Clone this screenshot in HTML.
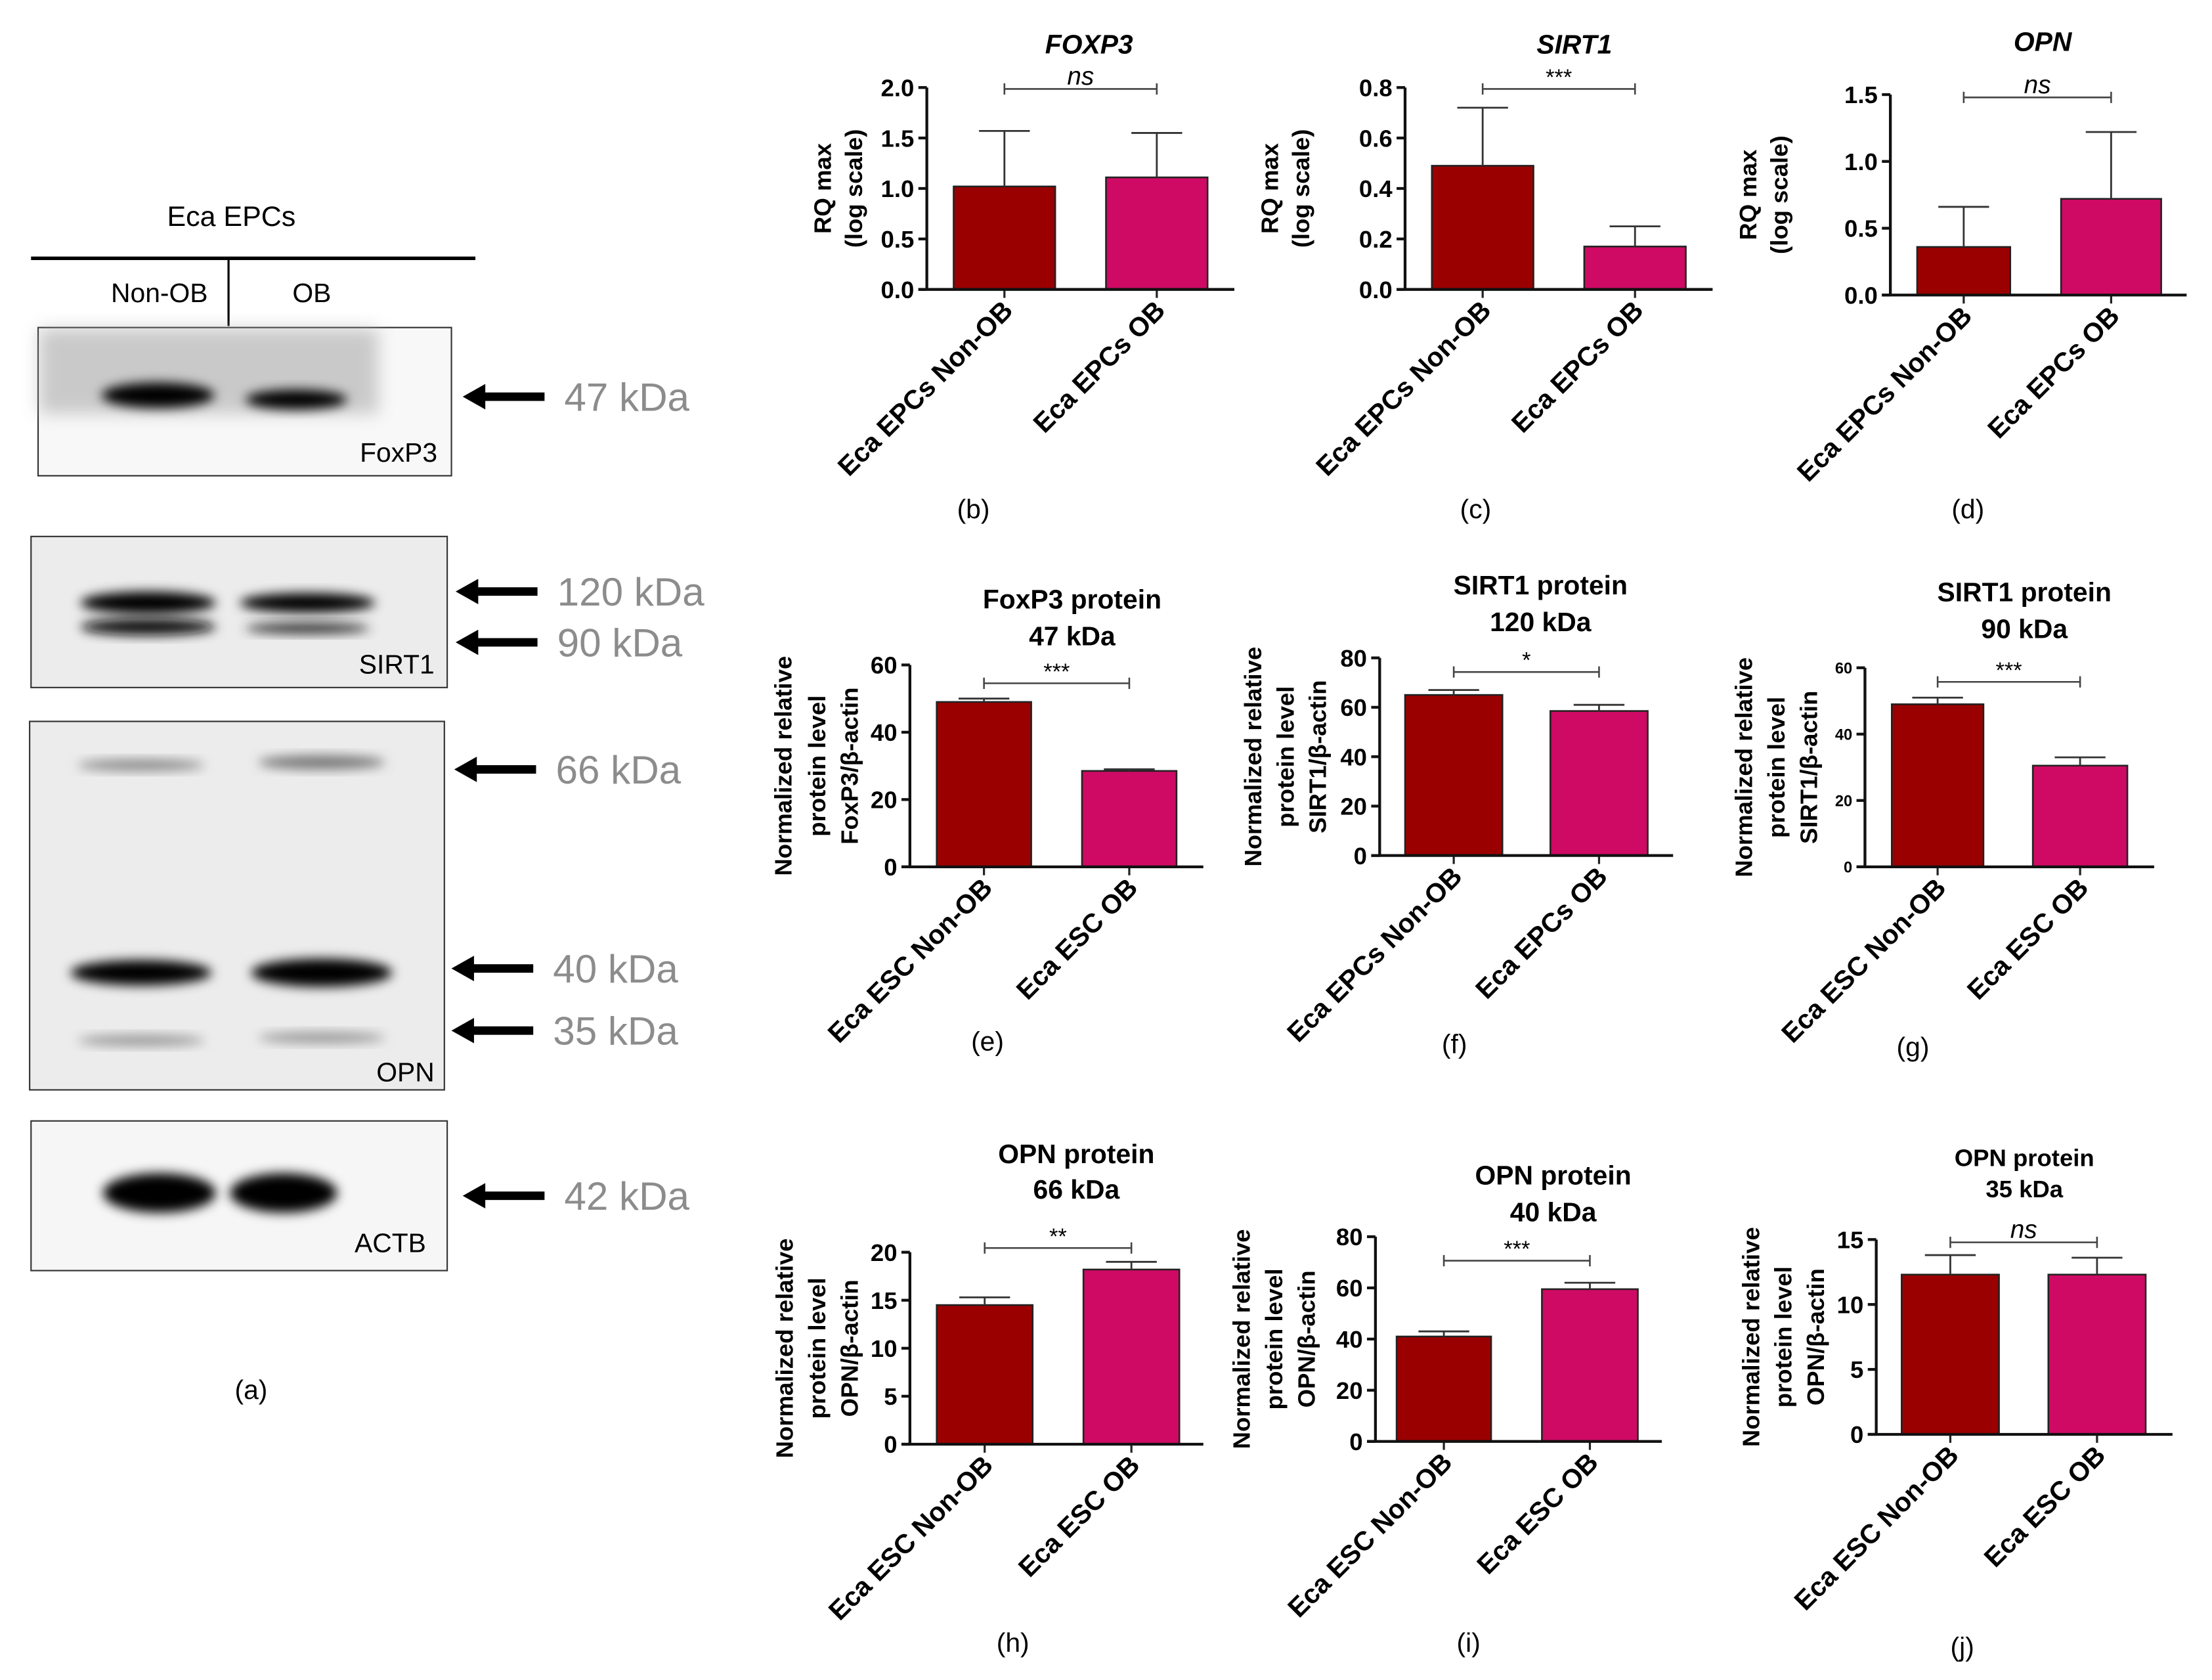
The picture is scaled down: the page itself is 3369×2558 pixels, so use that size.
<!DOCTYPE html>
<html><head><meta charset="utf-8"><style>
html,body{margin:0;padding:0;background:#fff}
svg{display:block}
text{font-family:"Liberation Sans",sans-serif}
</style></head><body>
<svg id="fig" width="3369" height="2558" viewBox="0 0 1568 1190" preserveAspectRatio="none" xmlns="http://www.w3.org/2000/svg">
<defs>
<filter id="blur" x="-50%" y="-50%" width="200%" height="200%"><feGaussianBlur stdDeviation="4"/></filter>
<filter id="blur2" x="-50%" y="-50%" width="200%" height="200%"><feGaussianBlur stdDeviation="6"/></filter>
</defs>
<g id="blots">
<text x="164" y="160" font-size="20" text-anchor="middle">Eca  EPCs</text>
<line x1="22" y1="183" x2="337" y2="183" stroke="#000" stroke-width="2.5"/>
<line x1="162" y1="183" x2="162" y2="231" stroke="#000" stroke-width="1.5"/>
<text x="113" y="214" font-size="19" text-anchor="middle">Non-OB</text>
<text x="221" y="214" font-size="19" text-anchor="middle">OB</text>
<g>
<rect x="27" y="232" width="293" height="105" fill="#f8f8f8" stroke="#333"/>
<rect x="28" y="233" width="240" height="60" fill="#aaa" filter="url(#blur2)" opacity="0.6"/>
<ellipse cx="112" cy="280" rx="40" ry="9" fill="#000" filter="url(#blur)"/>
<ellipse cx="210" cy="283" rx="36" ry="7" fill="#000" filter="url(#blur)"/>
<text x="310" y="327" font-size="19" text-anchor="end">FoxP3</text>
</g>
<g>
<rect x="22" y="380" width="295" height="107" fill="#ececec" stroke="#333"/>
<ellipse cx="105" cy="427" rx="48" ry="8" fill="#000" filter="url(#blur)"/>
<ellipse cx="218" cy="427" rx="48" ry="7" fill="#000" filter="url(#blur)"/>
<ellipse cx="105" cy="444" rx="48" ry="6" fill="#111" filter="url(#blur)"/>
<ellipse cx="218" cy="445" rx="44" ry="4" fill="#333" filter="url(#blur)"/>
<text x="308" y="477" font-size="19" text-anchor="end">SIRT1</text>
</g>
<g>
<rect x="21" y="511" width="294" height="261" fill="#ececec" stroke="#333"/>
<ellipse cx="100" cy="542" rx="45" ry="4" fill="#888" filter="url(#blur)"/>
<ellipse cx="228" cy="540" rx="45" ry="5" fill="#777" filter="url(#blur)"/>
<ellipse cx="100" cy="689" rx="50" ry="9" fill="#000" filter="url(#blur)"/>
<ellipse cx="228" cy="689" rx="50" ry="10" fill="#000" filter="url(#blur)"/>
<ellipse cx="100" cy="737" rx="45" ry="4" fill="#999" filter="url(#blur)"/>
<ellipse cx="228" cy="735" rx="45" ry="4" fill="#999" filter="url(#blur)"/>
<text x="308" y="766" font-size="19" text-anchor="end">OPN</text>
</g>
<g>
<rect x="22" y="794" width="295" height="106" fill="#f6f6f6" stroke="#333"/>
<ellipse cx="113" cy="845" rx="40" ry="14" fill="#000" filter="url(#blur)"/>
<ellipse cx="201" cy="845" rx="38" ry="14" fill="#000" filter="url(#blur)"/>
<text x="302" y="887" font-size="19" text-anchor="end">ACTB</text>
</g>
<g id="arrows" fill="#000"></g>
<text x="178" y="991" font-size="19" text-anchor="middle">(a)</text>
</g>
<g id="charts"></g>
</svg>
<script>
const NS="http://www.w3.org/2000/svg";
function el(p,t,a,txt){const e=document.createElementNS(NS,t);for(const k in a)e.setAttribute(k,a[k]);if(txt!==undefined)e.textContent=txt;p.appendChild(e);return e;}

const kdaLabels=["47 kDa","120 kDa","90 kDa","66 kDa","40 kDa","35 kDa","42 kDa"];
const kdaY=[281,419,455,545,686,730,847];
const kdaX=[328,323,323,322,320,320,328];
const ag=document.getElementById('arrows');
kdaLabels.forEach((l,i)=>{
  const x=kdaX[i],y=kdaY[i];
  const g=el(ag,'g',{});
  
  
  el(g,'rect',{x:x+12,y:y-3,width:46,height:6});
  el(g,'polygon',{points:`${x},${y} ${x+16},${y-9} ${x+16},${y+9}`});
  el(g,'text',{x:x+72,y:y+10,'font-size':28,fill:'#8c8c8c'},l);
});

const categories_b=["Eca EPCs Non-OB","Eca EPCs OB"];
const values_b=[1.02,1.11]; const errors_b=[0.55,0.44]; const ticks_b=[0,0.5,1.0,1.5,2.0];
const categories_c=["Eca EPCs Non-OB","Eca EPCs OB"];
const values_c=[0.49,0.17]; const errors_c=[0.23,0.08]; const ticks_c=[0,0.2,0.4,0.6,0.8];
const categories_d=["Eca EPCs Non-OB","Eca EPCs OB"];
const values_d=[0.36,0.72]; const errors_d=[0.30,0.50]; const ticks_d=[0,0.5,1.0,1.5];
const categories_e=["Eca ESC Non-OB","Eca ESC OB"];
const values_e=[49,28.5]; const errors_e=[1,0.5]; const ticks_e=[0,20,40,60];
const categories_f=["Eca EPCs Non-OB","Eca EPCs OB"];
const values_f=[65,58.5]; const errors_f=[2,2.5]; const ticks_f=[0,20,40,60,80];
const categories_g=["Eca ESC Non-OB","Eca ESC OB"];
const values_g=[49,30.5]; const errors_g=[2,2.5]; const ticks_g=[0,20,40,60];
const categories_h=["Eca ESC Non-OB","Eca ESC OB"];
const values_h=[14.5,18.2]; const errors_h=[0.8,0.8]; const ticks_h=[0,5,10,15,20];
const categories_i=["Eca ESC Non-OB","Eca ESC OB"];
const values_i=[41,59.5]; const errors_i=[2,2.5]; const ticks_i=[0,20,40,60,80];
const categories_j=["Eca ESC Non-OB","Eca ESC OB"];
const values_j=[12.3,12.3]; const errors_j=[1.5,1.3]; const ticks_j=[0,5,10,15];

const colors=["#9b0000","#cf0a64"];
const layouts=[
 {id:'b',cats:categories_b,vals:values_b,errs:errors_b,ticks:ticks_b,dec:1,ax:657,base:205,top:62,end:875,bars:[[676,748],[784,856]],title:["FOXP3"],italic:true,tx:772,ty:[38],sig:"ns",sy:63,yl:["RQ max","(log scale)"],ylx:[589,611],lab:"(b)",lx:690,ly:367,tk:17},
 {id:'c',cats:categories_c,vals:values_c,errs:errors_c,ticks:ticks_c,dec:1,ax:996,base:205,top:62,end:1214,bars:[[1015,1087],[1123,1195]],title:["SIRT1"],italic:true,tx:1116,ty:[38],sig:"***",sy:63,yl:["RQ max","(log scale)"],ylx:[906,928],lab:"(c)",lx:1046,ly:367,tk:17},
 {id:'d',cats:categories_d,vals:values_d,errs:errors_d,ticks:ticks_d,dec:1,ax:1340,base:209,top:67,end:1550,bars:[[1359,1425],[1461,1532]],title:["OPN"],italic:true,tx:1448,ty:[36],sig:"ns",sy:69,yl:["RQ max","(log scale)"],ylx:[1245,1267],lab:"(d)",lx:1395,ly:367,tk:17},
 {id:'e',cats:categories_e,vals:values_e,errs:errors_e,ticks:ticks_e,dec:0,ax:645,base:614,top:471,end:853,bars:[[664,731],[767,834]],title:["FoxP3 protein","47 kDa"],tx:760,ty:[431,457],sig:"***",sy:484,yl:["Normalized relative","protein level","FoxP3/β-actin"],ylx:[561,585,608],lab:"(e)",lx:700,ly:744,tk:17},
 {id:'f',cats:categories_f,vals:values_f,errs:errors_f,ticks:ticks_f,dec:0,ax:978,base:606,top:466,end:1186,bars:[[996,1065],[1099,1168]],title:["SIRT1 protein","120 kDa"],tx:1092,ty:[421,447],sig:"*",sy:476,yl:["Normalized relative","protein level","SIRT1/β-actin"],ylx:[894,917,940],lab:"(f)",lx:1031,ly:746,tk:17},
 {id:'g',cats:categories_g,vals:values_g,errs:errors_g,ticks:ticks_g,dec:0,ax:1322,base:614,top:473,end:1527,bars:[[1341,1406],[1441,1508]],title:["SIRT1 protein","90 kDa"],tx:1435,ty:[426,452],sig:"***",sy:483,yl:["Normalized relative","protein level","SIRT1/β-actin"],ylx:[1242,1265,1288],lab:"(g)",lx:1356,ly:748,tk:11},
 {id:'h',cats:categories_h,vals:values_h,errs:errors_h,ticks:ticks_h,dec:0,ax:645,base:1023,top:887,end:853,bars:[[664,732],[768,836]],title:["OPN protein","66 kDa"],tx:763,ty:[824,849],sig:"**",sy:884,yl:["Normalized relative","protein level","OPN/β-actin"],ylx:[562,585,608],lab:"(h)",lx:718,ly:1170,tk:17},
 {id:'i',cats:categories_i,vals:values_i,errs:errors_i,ticks:ticks_i,dec:0,ax:975,base:1021,top:876,end:1178,bars:[[990,1057],[1093,1161]],title:["OPN protein","40 kDa"],tx:1101,ty:[839,865],sig:"***",sy:893,yl:["Normalized relative","protein level","OPN/β-actin"],ylx:[886,909,932],lab:"(i)",lx:1041,ly:1170,tk:17},
 {id:'j',cats:categories_j,vals:values_j,errs:errors_j,ticks:ticks_j,dec:0,ax:1330,base:1016,top:878,end:1540,bars:[[1348,1417],[1452,1521]],title:["OPN protein","35 kDa"],tx:1435,ty:[826,848],sig:"ns",sy:880,yl:["Normalized relative","protein level","OPN/β-actin"],ylx:[1247,1270,1293],lab:"(j)",lx:1391,ly:1173,tk:17,tfs:17}
];

const root=document.getElementById('charts');
layouts.forEach(L=>{
  const g=el(root,'g',{});
  
  
  const tmax=L.ticks[L.ticks.length-1];
  const y=v=>L.base-(v/tmax)*(L.base-L.top);
  L.vals.forEach((v,i)=>{
    const [x0,x1]=L.bars[i];const cx=(x0+x1)/2;
    const b=el(g,'rect',{x:x0,y:y(v),width:x1-x0,height:L.base-y(v),fill:colors[i],stroke:'#222','stroke-width':1.2});
    
    
    const ye=y(v+L.errs[i]);
    el(g,'line',{x1:cx,y1:y(v),x2:cx,y2:ye,stroke:'#333','stroke-width':1.3});
    el(g,'line',{x1:cx-18,y1:ye,x2:cx+18,y2:ye,stroke:'#333','stroke-width':1.3});
    el(g,'line',{x1:cx,y1:L.base,x2:cx,y2:L.base+6,stroke:'#222','stroke-width':1.5});
    const t=el(g,'text',{transform:`translate(${cx+7},${L.base+16}) rotate(-45)`,'text-anchor':'end','font-size':19,'font-weight':'bold'},L.cats[i]);
    
    
  });
  el(g,'line',{x1:L.ax,y1:L.top,x2:L.ax,y2:L.base,stroke:'#111','stroke-width':2});
  el(g,'line',{x1:L.ax-6,y1:L.base,x2:L.end,y2:L.base,stroke:'#111','stroke-width':2});
  const tfsz=L.tk;
  L.ticks.forEach(tv=>{
    el(g,'line',{x1:L.ax-6,y1:y(tv),x2:L.ax,y2:y(tv),stroke:'#111','stroke-width':2});
    const t=el(g,'text',{x:L.ax-9,y:y(tv)+tfsz*0.36,'text-anchor':'end','font-size':tfsz,'font-weight':'bold'},tv.toFixed(L.dec));
    
    
  });
  const ymid=(L.top+L.base)/2;
  L.yl.forEach((s,k)=>{
    const t=el(g,'text',{transform:`translate(${L.ylx[k]},${ymid}) rotate(-90)`,'text-anchor':'middle','font-size':17,'font-weight':'bold'},s);
    
    
  });
  L.title.forEach((s,k)=>{
    const a={x:L.tx,y:L.ty[k],'text-anchor':'middle','font-size':L.tfs||19,'font-weight':'bold'};
    if(L.italic)a['font-style']='italic';
    const t=el(g,'text',a,s);
    
    
  });
  const c0=(L.bars[0][0]+L.bars[0][1])/2,c1=(L.bars[1][0]+L.bars[1][1])/2;
  el(g,'line',{x1:c0,y1:L.sy,x2:c1,y2:L.sy,stroke:'#444','stroke-width':1.2});
  el(g,'line',{x1:c0,y1:L.sy-4,x2:c0,y2:L.sy+4,stroke:'#444','stroke-width':1.2});
  el(g,'line',{x1:c1,y1:L.sy-4,x2:c1,y2:L.sy+4,stroke:'#444','stroke-width':1.2});
  const st=el(g,'text',{x:(c0+c1)/2,y:L.sy-3,'text-anchor':'middle','font-size':L.sig==='ns'?18:16,'font-style':L.sig==='ns'?'italic':'normal'},L.sig);
  
  
  const pl=el(g,'text',{x:L.lx,y:L.ly,'text-anchor':'middle','font-size':19},L.lab);
  
  
});
</script>
</body></html>
